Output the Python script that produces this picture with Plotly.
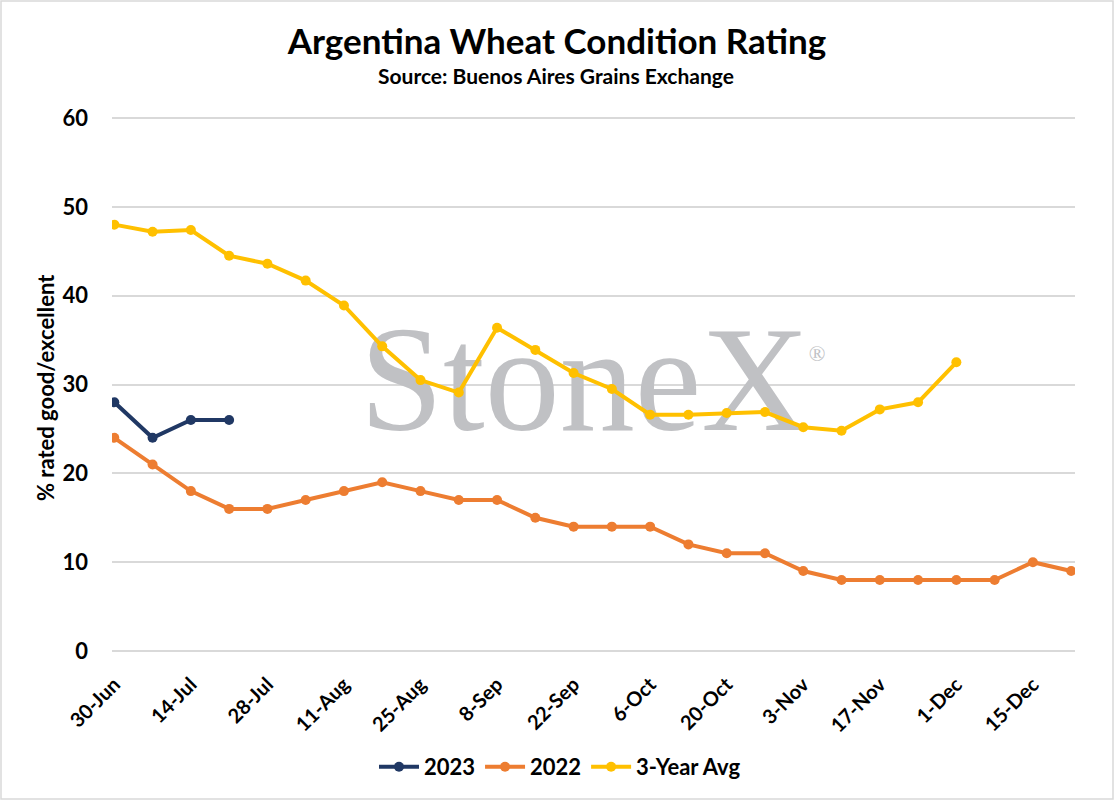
import plotly.graph_objects as go

weeks = ["30-Jun", "7-Jul", "14-Jul", "21-Jul", "28-Jul", "4-Aug", "11-Aug", "18-Aug",
         "25-Aug", "1-Sep", "8-Sep", "15-Sep", "22-Sep", "29-Sep", "6-Oct", "13-Oct",
         "20-Oct", "27-Oct", "3-Nov", "10-Nov", "17-Nov", "24-Nov", "1-Dec", "8-Dec",
         "15-Dec", "22-Dec"]

y2023 = [28, 24, 26, 26]
y2022 = [24, 21, 18, 16, 16, 17, 18, 19, 18, 17, 17, 15, 14, 14, 14, 12, 11, 11, 9,
         8, 8, 8, 8, 8, 10, 9]
avg3 = [48.0, 47.2, 47.4, 44.5, 43.6, 41.7, 38.9, 34.3, 30.5, 29.1, 36.4, 33.9, 31.3,
        29.5, 26.6, 26.6, 26.8, 26.9, 25.2, 24.8, 27.2, 28.0, 32.5]

tick_idx = list(range(0, len(weeks), 2))
tick_labels = [weeks[i] for i in tick_idx]

FONT = "Lato"
C2023 = "#203864"
C2022 = "#ED7D31"
CAVG = "#FFC000"

fig = go.Figure()

# watermark (drawn first so the series sit on top of it)
fig.add_trace(go.Scatter(
    x=[12.29], y=[29.05], mode="text", text=["StoneX"],
    textfont=dict(family="Liberation Serif", size=150, color="#C0C1C4"),
    textposition="middle center", showlegend=False, hoverinfo="skip"))
fig.add_trace(go.Scatter(
    x=[18.36], y=[33.3], mode="text", text=["®"],
    textfont=dict(family="Liberation Serif", size=22, color="#C0C1C4"),
    textposition="middle center", showlegend=False, hoverinfo="skip"))

def series(vals, name, color):
    return go.Scatter(
        x=list(range(len(vals))), y=vals, name=f"<b>{name}</b>", mode="lines+markers",
        line=dict(color=color, width=4), marker=dict(color=color, size=10))

fig.add_trace(series(y2023, "2023", C2023))
fig.add_trace(series(y2022, "2022", C2022))
fig.add_trace(series(avg3, "3-Year Avg", CAVG))

L, R, T, B = 112, 40, 117, 150
W, H = 1115, 801
pw, ph = W - L - R, H - T - B

fig.update_layout(
    width=W, height=H,
    margin=dict(l=L, r=R, t=T, b=B),
    paper_bgcolor="white", plot_bgcolor="white",
    font=dict(family=FONT, color="black"),
    title=dict(text="<b>Argentina Wheat Condition Rating</b>",
               font=dict(family=FONT, size=35, color="black"),
               x=557 / W, xanchor="center", xref="container",
               y=1 - 42 / H, yanchor="middle"),
    legend=dict(orientation="h", x=(560 - L) / pw, xanchor="center",
                y=(T + ph - 767) / ph, yanchor="middle",
                font=dict(family=FONT, size=22, color="black"),
                itemwidth=40, traceorder="normal", bgcolor="rgba(0,0,0,0)"),
    xaxis=dict(range=[-0.06, 25.1], tickmode="array", tickvals=tick_idx,
               ticktext=[f"<b>{t}</b>" for t in tick_labels], tickangle=-45,
               tickfont=dict(family=FONT, size=20, color="black"),
               showgrid=False, zeroline=False, showline=False,
               ticks="", ticklabelstandoff=17),
    yaxis=dict(range=[0, 60.12], dtick=10, tickmode="linear", tick0=0,
               tickfont=dict(family=FONT, size=22, color="black"),
               tickprefix="<b>", ticksuffix="</b>",
               showgrid=True, gridcolor="#D9D9D9", gridwidth=1.6,
               zeroline=True, zerolinecolor="#D9D9D9", zerolinewidth=1.6,
               showline=False, ticks="", ticklabelstandoff=23),
    annotations=[
        dict(text="<b>Source: Buenos Aires Grains Exchange</b>",
             xref="paper", yref="paper", x=(556 - L) / pw, y=(T + ph - 76) / ph,
             xanchor="center", yanchor="middle", showarrow=False,
             font=dict(family=FONT, size=21, color="black")),
        dict(text="<b>% rated good/excellent</b>", textangle=-90,
             xref="paper", yref="paper", x=(45 - L) / pw, y=(T + ph - 388) / ph,
             xanchor="center", yanchor="middle", showarrow=False,
             font=dict(family=FONT, size=22, color="black")),
    ],
    shapes=[dict(type="rect", xref="paper", yref="paper",
                 x0=(1 - L) / pw, x1=(W - 2 - L) / pw,
                 y0=(T + ph - (H - 2)) / ph, y1=(T + ph - 1) / ph,
                 line=dict(color="#D9D9D9", width=1.5), fillcolor="rgba(0,0,0,0)",
                 layer="below")],
)

fig.write_html("out.html", config={"displayModeBar": False},
               post_script="document.body.style.margin='0';")
